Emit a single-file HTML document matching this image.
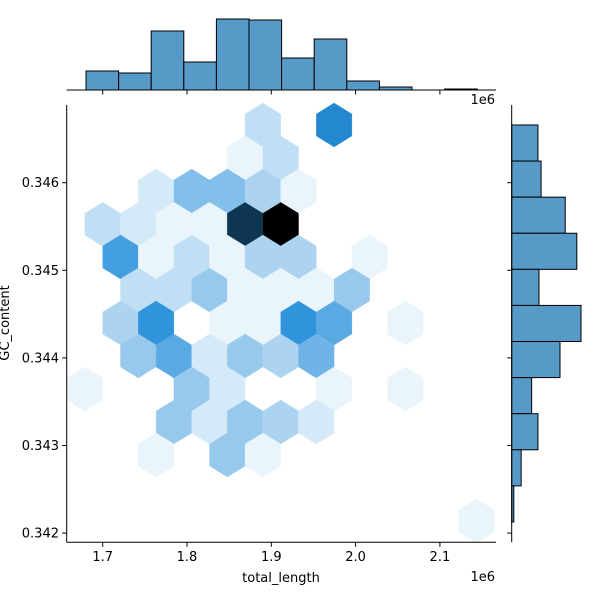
<!DOCTYPE html>
<html><head><meta charset="utf-8"><style>
html,body{margin:0;padding:0;background:#fff;}
svg{display:block;font-family:"DejaVu Sans","Liberation Sans",sans-serif;}
</style></head><body>
<svg id="chart" width="600" height="600" viewBox="0 0 600 600" xmlns="http://www.w3.org/2000/svg">
<g id="hexes"></g>
<g id="topHist"></g>
<g id="rightHist"></g>
<g id="axes"></g>
<text x="495" y="104" font-size="13" text-anchor="end">1e6</text>
<text x="495" y="581" font-size="13" text-anchor="end">1e6</text>
<text x="281" y="582" font-size="13" text-anchor="middle">total_length</text>
<text x="0" y="0" font-size="13" text-anchor="middle" transform="translate(9,323) rotate(-90)">GC_content</text>
</svg>
<script>
const hexX = [1.8900,1.9745, 1.8689,1.9112, 1.7633,1.8056,1.8478,1.8900,1.9323,
 1.7000,1.7422,1.7845,1.8267,1.8689,1.9112,
 1.7211,1.7633,1.8056,1.8478,1.8900,1.9323,2.0167,
 1.7422,1.7845,1.8267,1.8689,1.9112,1.9534,1.9956,
 1.7211,1.7633,1.8478,1.8900,1.9323,1.9745,2.0590,
 1.7422,1.7845,1.8267,1.8689,1.9112,1.9534,
 1.6789,1.8056,1.8478,1.9745,2.0590,
 1.7845,1.8267,1.8689,1.9112,1.9534,
 1.7633,1.8478,1.8900, 2.1434];
const hexY = [0.346659,0.346659, 0.346282,0.346282, 0.345905,0.345905,0.345905,0.345905,0.345905,
 0.345525,0.345525,0.345525,0.345525,0.345525,0.345525,
 0.345152,0.345152,0.345152,0.345152,0.345152,0.345152,0.345152,
 0.344775,0.344775,0.344775,0.344775,0.344775,0.344775,0.344775,
 0.344398,0.344398,0.344398,0.344398,0.344398,0.344398,0.344398,
 0.344022,0.344022,0.344022,0.344022,0.344022,0.344022,
 0.343645,0.343645,0.343645,0.343645,0.343645,
 0.343268,0.343268,0.343268,0.343268,0.343268,
 0.342892,0.342892,0.342892, 0.342138];
const hexCount = [3,11, 1,3, 2,6,6,4,1,
 3,2,1,1,17,21,
 9,1,3,1,4,4,1,
 3,3,5,1,1,1,5,
 4,10,1,1,10,8,1,
 5,8,2,5,4,7,
 1,5,2,1,1,
 5,2,5,4,2,
 1,5,1, 1];
const topBinStart = 1.6802, topBinWidth = 0.03867;
const topCounts = [19,17,59,28,71,70,32,51,9,3,0,1];
const rightBinStart = 0.346659, rightBinWidth = 0.000412;
const rightCounts = [25,28,51,62,26,66,46,19,25,9,2];
const xTicks = [1.7,1.8,1.9,2.0,2.1];
const xTickLabels = ["1.7","1.8","1.9","2.0","2.1"];
const yTicks = [0.346,0.345,0.344,0.343,0.342];
const yTickLabels = ["0.346","0.345","0.344","0.343","0.342"];

const NS = "http://www.w3.org/2000/svg";
const sx = x => 102.7 + (x - 1.7) * 843;
const sy = y => 182.7 - (y - 0.346) * 87600;
const topY = c => 90 - c * 1.0;
const rightX = c => 511.7 + c * 1.05;
const hexHalfW = 0.02111, hexTip = 0.000251, hexShoulder = 0.0001256;
const maxCount = Math.max(...hexCount);

function hexColor(c){
  const l = 1 - c / maxCount, s = 0.71, h = 205;
  const C = (1 - Math.abs(2*l - 1)) * s;
  const X = C * (1 - Math.abs((h/60) % 2 - 1));
  const m = l - C/2;
  const r = m, g = X + m, b = C + m;
  return `rgb(${Math.round(r*255)},${Math.round(g*255)},${Math.round(b*255)})`;
}
function mk(tag, attrs, parent){
  const e = document.createElementNS(NS, tag);
  for (const k in attrs) e.setAttribute(k, attrs[k]);
  parent.appendChild(e);
  return e;
}
const gh = document.getElementById('hexes');
hexX.forEach((x, i) => {
  const y = hexY[i];
  const pts = [[x+hexHalfW,y-hexShoulder],[x+hexHalfW,y+hexShoulder],[x,y+hexTip],
               [x-hexHalfW,y+hexShoulder],[x-hexHalfW,y-hexShoulder],[x,y-hexTip]]
    .map(p => sx(p[0]).toFixed(2)+","+sy(p[1]).toFixed(2)).join(" ");
  const col = hexColor(hexCount[i]);
  const p = mk('polygon', {points: pts, fill: col, stroke: col, 'stroke-width': 0.3}, gh);
  
  
});
const gt = document.getElementById('topHist');
topCounts.forEach((c, i) => {
  if (c <= 0) return;
  const x0 = sx(topBinStart + i*topBinWidth), x1 = sx(topBinStart + (i+1)*topBinWidth);
  const r = mk('rect', {x: x0, y: topY(c), width: x1-x0, height: 90 - topY(c), fill: '#5799c7', stroke: '#000', 'stroke-width': 1}, gt);
  
  
});
const gr = document.getElementById('rightHist');
rightCounts.forEach((c, i) => {
  const y0 = sy(rightBinStart - i*rightBinWidth), y1 = sy(rightBinStart - (i+1)*rightBinWidth);
  const r = mk('rect', {x: 511.7, y: y0, width: rightX(c) - 511.7, height: y1-y0, fill: '#5799c7', stroke: '#000', 'stroke-width': 1}, gr);
  
  
});
const ga = document.getElementById('axes');
const line = (x1,y1,x2,y2,name) => {
  const l = mk('line', {x1,y1,x2,y2,stroke:'#000','stroke-width':1}, ga);
  
  
};
line(66.7,105,66.7,542.3,'y-axis-spine');
line(66.7,542.3,496,542.3,'x-axis-spine');
line(66.7,90,496,90,'top-marginal-spine');
line(511.7,105,511.7,542.3,'right-marginal-spine');
xTicks.forEach((t, i) => {
  const x = sx(t);
  line(x,542.3,x,546.8,'x-tick');
  line(x,90,x,94.5,'top-marginal-tick');
  const tx = mk('text', {x: x, y: 561, 'font-size': 13, 'text-anchor': 'middle'}, ga);
  tx.textContent = xTickLabels[i];
  
  
});
yTicks.forEach((t, i) => {
  const y = sy(t);
  line(62.2,y,66.7,y,'y-tick');
  line(507.2,y,511.7,y,'right-marginal-tick');
  const tx = mk('text', {x: 59, y: y+4.5, 'font-size': 13, 'text-anchor': 'end'}, ga);
  tx.textContent = yTickLabels[i];
  
  
});
</script>
</body></html>
